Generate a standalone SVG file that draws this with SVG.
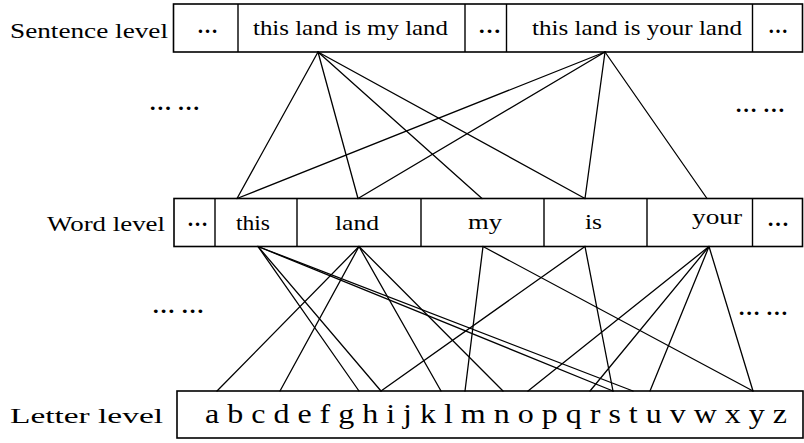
<svg xmlns="http://www.w3.org/2000/svg" width="804" height="443" viewBox="0 0 804 443">
<style>
.box{fill:#fff;stroke:#000;stroke-width:1.6}
.div{stroke:#000;stroke-width:1.4}
.t{font-family:"Liberation Serif","Times New Roman",serif;font-size:22px;fill:#000}
.lt{font-family:"Liberation Serif","Times New Roman",serif;font-size:28px;fill:#000}
.dots{font-family:"Liberation Serif","Times New Roman",serif;font-size:20px;font-weight:bold;fill:#000}
.c line{stroke:#000;stroke-width:1.3;stroke-linecap:round}
</style>
<rect width="804" height="443" fill="#fff"/>

<!-- labels -->
<g id="label-sentence"><text class="t" x="10" y="38" textLength="158" lengthAdjust="spacingAndGlyphs">Sentence level</text></g>
<g id="label-word"><text class="t" x="47" y="231" textLength="118" lengthAdjust="spacingAndGlyphs">Word level</text></g>
<g id="label-letter"><text class="t" x="10" y="423" textLength="153" lengthAdjust="spacingAndGlyphs">Letter level</text></g>

<!-- sentence row -->
<g id="sentence-row">
<rect class="box" x="173.5" y="4" width="629" height="48"/>
<line class="div" x1="238" y1="4" x2="238" y2="52"/>
<line class="div" x1="465" y1="4" x2="465" y2="52"/>
<line class="div" x1="506.5" y1="4" x2="506.5" y2="52"/>
<line class="div" x1="752.5" y1="4" x2="752.5" y2="52"/>
</g>
<g id="s-dots1"><text class="dots" x="197" y="33" textLength="21" lengthAdjust="spacingAndGlyphs">…</text></g>
<g id="s1"><text class="t" x="253" y="35" textLength="195" lengthAdjust="spacingAndGlyphs">this land is my land</text></g>
<g id="s-dots2"><text class="dots" x="478" y="33" textLength="23" lengthAdjust="spacingAndGlyphs">…</text></g>
<g id="s2"><text class="t" x="532" y="35" textLength="210" lengthAdjust="spacingAndGlyphs">this land is your land</text></g>
<g id="s-dots3"><text class="dots" x="768" y="33" textLength="20" lengthAdjust="spacingAndGlyphs">…</text></g>

<!-- word row -->
<g id="word-row">
<rect class="box" x="174" y="198.5" width="628.5" height="48"/>
<line class="div" x1="215" y1="198.5" x2="215" y2="246.5"/>
<line class="div" x1="297" y1="198.5" x2="297" y2="246.5"/>
<line class="div" x1="421" y1="198.5" x2="421" y2="246.5"/>
<line class="div" x1="544" y1="198.5" x2="544" y2="246.5"/>
<line class="div" x1="647" y1="198.5" x2="647" y2="246.5"/>
<line class="div" x1="752.5" y1="198.5" x2="752.5" y2="246.5"/>
</g>
<g id="w-dots1"><text class="dots" x="187" y="226" textLength="21" lengthAdjust="spacingAndGlyphs">…</text></g>
<g id="w-this"><text class="t" x="236" y="230" textLength="34" lengthAdjust="spacingAndGlyphs">this</text></g>
<g id="w-land"><text class="t" x="335" y="230" textLength="44" lengthAdjust="spacingAndGlyphs">land</text></g>
<g id="w-my"><text class="t" x="468" y="229" textLength="34" lengthAdjust="spacingAndGlyphs">my</text></g>
<g id="w-is"><text class="t" x="585" y="229" textLength="17" lengthAdjust="spacingAndGlyphs">is</text></g>
<g id="w-your"><text class="t" x="692" y="224" textLength="50" lengthAdjust="spacingAndGlyphs">your</text></g>
<g id="w-dots2"><text class="dots" x="767" y="226" textLength="22" lengthAdjust="spacingAndGlyphs">…</text></g>

<!-- letter row -->
<g id="letter-row">
<rect class="box" x="177" y="391" width="626" height="47"/>
<text class="lt" x="205" y="423" textLength="582" lengthAdjust="spacingAndGlyphs">a b c d e f g h i j k l m n o p q r s t u v w x y z</text>
</g>

<!-- ellipses between levels -->
<g id="gap-ul"><text class="dots" x="149" y="110" textLength="51" lengthAdjust="spacingAndGlyphs">… …</text></g>
<g id="gap-ur"><text class="dots" x="735" y="112" textLength="50" lengthAdjust="spacingAndGlyphs">… …</text></g>
<g id="gap-ll"><text class="dots" x="152" y="313" textLength="52" lengthAdjust="spacingAndGlyphs">… …</text></g>
<g id="gap-lr"><text class="dots" x="738" y="315" textLength="50" lengthAdjust="spacingAndGlyphs">… …</text></g>

<!-- connectors -->
<g id="connectors" class="c">
<line x1="318" y1="52" x2="237" y2="198.5"/>
<line x1="318" y1="52" x2="358" y2="198.5"/>
<line x1="318" y1="52" x2="482" y2="198.5"/>
<line x1="318" y1="52" x2="585" y2="198.5"/>
<line x1="605" y1="52" x2="237" y2="198.5"/>
<line x1="605" y1="52" x2="358" y2="198.5"/>
<line x1="605" y1="52" x2="585" y2="198.5"/>
<line x1="605" y1="52" x2="707" y2="198.5"/>

<line x1="258" y1="246.5" x2="359" y2="391"/>
<line x1="258" y1="246.5" x2="381" y2="391"/>
<line x1="258" y1="246.5" x2="613" y2="391"/>
<line x1="258" y1="246.5" x2="633" y2="391"/>
<line x1="359" y1="246.5" x2="217" y2="391"/>
<line x1="359" y1="246.5" x2="280" y2="391"/>
<line x1="359" y1="246.5" x2="441" y2="391"/>
<line x1="359" y1="246.5" x2="503" y2="391"/>
<line x1="483" y1="246.5" x2="465" y2="391"/>
<line x1="483" y1="246.5" x2="753" y2="391"/>
<line x1="585" y1="246.5" x2="381" y2="391"/>
<line x1="585" y1="246.5" x2="613" y2="391"/>
<line x1="709" y1="246.5" x2="528" y2="391"/>
<line x1="709" y1="246.5" x2="590" y2="391"/>
<line x1="709" y1="246.5" x2="650" y2="391"/>
<line x1="709" y1="246.5" x2="753" y2="391"/>
</g>
</svg>
